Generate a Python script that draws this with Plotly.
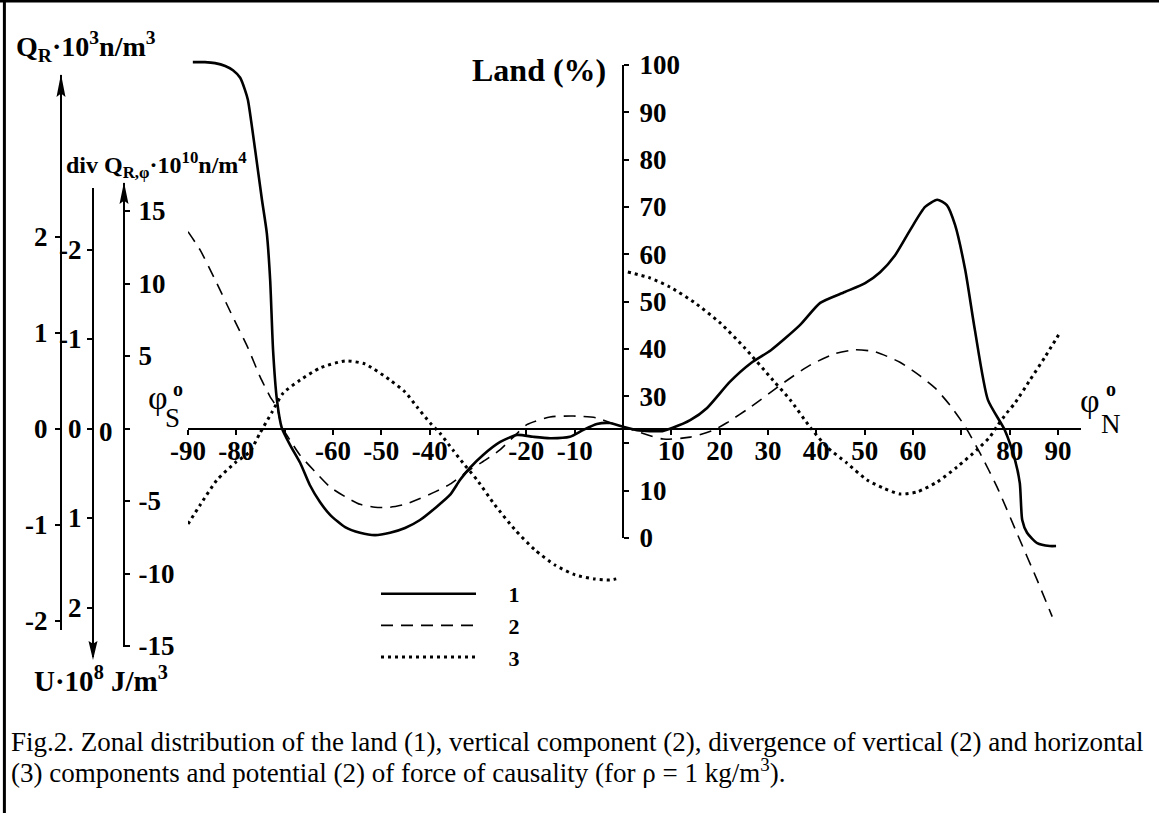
import plotly.graph_objects as go

W, H = 1159, 813

# ---------------- data ----------------
# curve 1: land fraction (%) vs latitude
lat_land = [-89.0, -86.5, -84.4, -82.3, -80.7, -79.2, -78.2, -77.6, -76.1, -74.7,
            -73.7, -73.0, -72.4, -71.6, -70.6, -68.9, -66.8, -64.8, -62.7, -60.6,
            -57.5, -54.4, -51.3, -48.2, -45.1, -42.0, -38.9, -35.8, -33.7, -31.7,
            -29.0, -25.4, -21.9, -18.6, -15.1, -11.0, -8.3, -5.4, -2.7, 0.0,
            2.9, 5.6, 8.1, 10.3, 13.9, 17.4, 22.1, 26.5, 30.6, 36.6,
            40.8, 45.9, 50.1, 53.2, 56.3, 59.4, 62.5, 65.0, 67.0, 68.7,
            70.8, 72.8, 75.5, 79.0, 81.1, 82.1, 82.6, 83.6, 85.7, 88.3, 89.6]
land_pct = [100.6, 100.6, 100.4, 99.8, 98.9, 97.3, 94.7, 92.6, 82.0, 71.5,
            64.5, 54.5, 39.7, 29.2, 23.3, 19.7, 15.9, 11.2, 7.6, 4.9,
            2.3, 1.1, 0.6, 1.1, 2.1, 3.8, 6.3, 9.1, 12.3, 14.8,
            17.5, 20.3, 21.8, 21.4, 21.1, 21.4, 22.8, 24.1, 24.3, 23.5,
            22.8, 22.6, 22.6, 23.3, 24.9, 27.5, 33.0, 37.0, 39.7, 45.0,
            49.7, 52.0, 53.9, 56.2, 59.8, 65.1, 70.0, 71.5, 70.4, 66.2,
            56.7, 44.0, 29.2, 22.8, 16.5, 11.6, 3.8, 1.1, -1.1, -1.7, -1.7]

# curve 2: vertical component Q_R (10^3 n/m^3)
lat_q = [-90.0, -87.5, -84.4, -80.7, -77.6, -75.1, -73.0, -71.6, -70.6, -68.9,
         -66.8, -63.7, -60.6, -57.5, -54.4, -51.3, -48.2, -45.1, -42.0, -38.9,
         -35.8, -31.7, -28.5, -25.4, -21.9, -19.9, -15.1, -10.3, -5.4, -2.7,
         0.0, 3.5, 8.3, 13.9, 18.6, 21.5, 26.3, 33.9, 38.7, 43.9,
         48.0, 52.1, 57.3, 61.4, 64.6, 67.7, 70.8, 73.9, 77.4, 81.5, 85.7, 88.8]
q_vert = [2.05, 1.86, 1.55, 1.16, 0.84, 0.54, 0.33, 0.22, 0.02, -0.12,
          -0.28, -0.45, -0.61, -0.71, -0.79, -0.82, -0.82, -0.79, -0.73, -0.66,
          -0.58, -0.43, -0.33, -0.22, -0.05, 0.04, 0.12, 0.13, 0.11, 0.06,
          0.02, -0.04, -0.11, -0.09, -0.02, 0.06, 0.22, 0.50, 0.66, 0.78,
          0.82, 0.80, 0.69, 0.55, 0.42, 0.24, 0.02, -0.26, -0.61, -1.09, -1.58, -1.96]

# curve 3: divergence of horizontal component (10^10 n/m^4); break at equator
lat_div = [-90.0, -87.5, -84.0, -80.3, -77.2, -75.1, -72.6, -70.3, -66.8, -62.7,
           -57.5, -53.4, -48.2, -45.1, -42.6, -39.9, -37.9, -35.2, -33.1, -30.2,
           -26.5, -22.3, -18.2, -14.1, -9.9, -5.8, -2.7, -0.6,
           None,
           1.0, 5.6, 9.7, 14.9, 20.1, 25.2, 31.0, 34.6, 38.7, 42.2,
           46.3, 50.5, 53.8, 57.3, 60.8, 65.0, 69.1, 73.2, 75.9, 77.4,
           79.4, 81.1, 84.2, 87.3, 90.5]
div_h = [-6.59, -5.28, -3.55, -2.38, -1.59, -0.31, 1.14, 2.45, 3.34, 4.17,
         4.66, 4.45, 3.34, 2.52, 1.48, 0.38, -0.31, -1.48, -2.38, -3.55,
         -5.28, -7.00, -8.38, -9.41, -10.10, -10.38, -10.45, -10.31,
         None,
         10.79, 10.38, 9.76, 8.66, 7.28, 5.55, 3.34, 1.97, 0.10, -1.28,
         -2.38, -3.55, -4.10, -4.52, -4.38, -3.69, -2.66, -1.48, -0.59, 0.17,
         1.07, 1.76, 3.34, 4.93, 6.66]

lat_ticks = [-90, -80, -60, -50, -40, -20, -10, 10, 20, 30, 40, 50, 60, 80, 90]
lat_ticktext = [str(v) for v in lat_ticks]
lat_unlabelled = [-70, -30, 0, 70]
land_ticks = [0, 10, 30, 40, 50, 60, 70, 80, 90, 100]
land_ticktext = [str(v) for v in land_ticks]
land_unlabelled = [20]
qr_ticks = [-2, -1, 0, 1, 2]
qr_ticktext = ["-2", "-1", "0", "1", "2"]
u_ticks = [-2, -1, 0, 1, 2]
u_ticktext = ["-2", "-1", "0", "1", "2"]
dv_ticks = [-15, -10, -5, 5, 10, 15]
dv_ticktext = ["-15", "-10", "-5", "5", "10", "15"]
dv_unlabelled = [0]

# ---------------- geometry (pixels of the 1159x813 canvas) ----------------
LAT0_PX = 623.0          # x pixel of latitude 0
PX_PER_DEG = 4.8333
ZERO_PY = 428.5          # y pixel of the horizontal axis
X_LEFT, X_RIGHT = 188.0, 1081.0
LAND0_PY, LAND100_PY = 538.0, 65.0
A_X, A_TOP, A_BOT, A_SCALE = 61.0, 75.0, 630.0, 96.0
B_X, B_TOP, B_BOT, B_SCALE = 93.0, 188.0, 657.0, 89.5
C_X, C_TOP, C_BOT, C_SCALE = 124.0, 183.0, 647.0, 14.5


def fx(px):
    return px / W


def fy(py):
    return 1 - py / H


SERIF = "Liberation Serif"
tick_font = dict(family=SERIF, size=27, color="black", weight="bold")

fig = go.Figure()

fig.add_trace(go.Scatter(x=lat_land, y=land_pct, mode="lines", name="\u00a0\u00a0\u00a0\u00a0\u00a01",
                         line=dict(color="black", width=2.6, shape="spline", smoothing=0.6),
                         xaxis="x", yaxis="y", hoverinfo="skip"))
fig.add_trace(go.Scatter(x=lat_q, y=q_vert, mode="lines", name="\u00a0\u00a0\u00a0\u00a0\u00a02",
                         line=dict(color="black", width=1.6, dash="12px,8px", shape="spline", smoothing=0.6),
                         xaxis="x", yaxis="y6", hoverinfo="skip"))
fig.add_trace(go.Scatter(x=lat_div, y=div_h, mode="lines", name="\u00a0\u00a0\u00a0\u00a0\u00a03",
                         line=dict(color="black", width=3, dash="3px,4px", shape="spline", smoothing=0.6),
                         connectgaps=False, xaxis="x", yaxis="y8", hoverinfo="skip"))
# empty traces so the land axis and the U axis get drawn
for ya in ("y5", "y7"):
    fig.add_trace(go.Scatter(x=[None], y=[None], mode="lines", showlegend=False,
                             xaxis="x", yaxis=ya, hoverinfo="skip"))


def axis_common(unlabelled=None):
    d = dict(showgrid=False, zeroline=False, showline=True, linecolor="black",
             linewidth=2, ticks="outside", ticklen=5, tickwidth=2, tickcolor="black",
             tickfont=tick_font, fixedrange=True, tickmode="array", automargin=False)
    if unlabelled:
        d["minor"] = dict(tickmode="array", tickvals=unlabelled, ticks="outside",
                          ticklen=5, tickwidth=2, tickcolor="black", showgrid=False)
    return d


fig.update_layout(
    template="none",
    width=W, height=H, autosize=False,
    margin=dict(l=0, r=0, t=0, b=0, pad=0),
    paper_bgcolor="white", plot_bgcolor="rgba(0,0,0,0)",
    xaxis=dict(domain=[fx(X_LEFT), fx(X_RIGHT)],
               range=[-90, (X_RIGHT - LAT0_PX) / PX_PER_DEG],
               anchor="free", position=fy(ZERO_PY),
               tickvals=lat_ticks, ticktext=lat_ticktext, ticklabelstandoff=-7,
               **axis_common(lat_unlabelled)),
    yaxis=dict(domain=[0, 1], visible=False, fixedrange=True, automargin=False,
               range=[(LAND0_PY - H) / ((LAND0_PY - LAND100_PY) / 100),
                      LAND0_PY / ((LAND0_PY - LAND100_PY) / 100)]),
    yaxis5=dict(domain=[fy(LAND0_PY), fy(LAND100_PY)], range=[0, 100],
                anchor="free", position=fx(LAT0_PX), side="right",
                tickvals=land_ticks, ticktext=land_ticktext, ticklabelstandoff=5,
                **axis_common(land_unlabelled)),
    yaxis6=dict(domain=[fy(A_BOT), fy(A_TOP)],
                range=[(ZERO_PY - A_BOT) / A_SCALE, (ZERO_PY - A_TOP) / A_SCALE],
                anchor="free", position=fx(A_X), side="left",
                tickvals=qr_ticks, ticktext=qr_ticktext, ticklabelstandoff=2,
                **axis_common()),
    yaxis7=dict(domain=[fy(B_BOT), fy(B_TOP)],
                range=[(B_BOT - ZERO_PY) / B_SCALE, (B_TOP - ZERO_PY) / B_SCALE],
                anchor="free", position=fx(B_X), side="left",
                tickvals=u_ticks, ticktext=u_ticktext, ticklabelstandoff=0,
                **axis_common()),
    yaxis8=dict(domain=[fy(C_BOT), fy(C_TOP)],
                range=[(ZERO_PY - C_BOT) / C_SCALE, (ZERO_PY - C_TOP) / C_SCALE],
                anchor="free", position=fx(C_X), side="right",
                tickvals=dv_ticks, ticktext=dv_ticktext, ticklabelstandoff=3,
                **axis_common(dv_unlabelled)),
    showlegend=True,
    legend=dict(x=fx(376), y=fy(573), xanchor="left", yanchor="top",
                itemwidth=95, bgcolor="rgba(0,0,0,0)", borderwidth=0,
                font=dict(family=SERIF, size=22, color="black", weight="bold"),
                traceorder="normal", tracegroupgap=0),
)


def tri(tip, base_y, half):
    x, y = tip
    return (f"M{fx(x):.5f},{fy(y):.5f} L{fx(x - half):.5f},{fy(base_y):.5f} "
            f"L{fx(x):.5f},{fy(base_y - (base_y - y) * 0.15):.5f} "
            f"L{fx(x + half):.5f},{fy(base_y):.5f} Z")


shapes = [
    dict(type="path", xref="paper", yref="paper", path=tri((A_X, A_TOP - 1), A_TOP + 22, 4.5),
         fillcolor="black", line=dict(width=0)),
    dict(type="path", xref="paper", yref="paper", path=tri((C_X, C_TOP - 1), C_TOP + 21, 4.5),
         fillcolor="black", line=dict(width=0)),
    dict(type="path", xref="paper", yref="paper", path=tri((B_X, B_BOT + 3), B_BOT - 16, 4.5),
         fillcolor="black", line=dict(width=0)),
    # frame: top and left edges only
    dict(type="line", xref="paper", yref="paper", x0=0, x1=1, y0=fy(1.2), y1=fy(1.2),
         line=dict(color="black", width=2.5)),
    dict(type="line", xref="paper", yref="paper", x0=fx(4.4), x1=fx(4.4), y0=0, y1=1,
         line=dict(color="black", width=3)),
]

annotations = []


def ann(text, px, py, size=27, xanchor="left", yanchor="middle", bold=True):
    annotations.append(dict(text=text, x=fx(px), y=fy(py), xref="paper", yref="paper",
                            xanchor=xanchor, yanchor=yanchor, showarrow=False,
                            font=dict(family=SERIF, size=size, color="black",
                                      weight="bold" if bold else "normal")))


ann("Q<sub>R</sub>·10<sup>3</sup>n/m<sup>3</sup>", 14, 46, size=28)
ann("div Q<sub>R,φ</sub>·10<sup>10</sup>n/m<sup>4</sup>", 64, 165, size=24)
ann("U·10<sup>8</sup> J/m<sup>3</sup>", 32, 679, size=29)
ann("Land (%)", 608, 70, size=32, xanchor="right")
ann("0", 115, 432, size=27, xanchor="right")
# latitude symbols
ann("φ", 146, 397, size=34, bold=False)
ann("o", 171, 389, size=20)
ann("S", 163, 418, size=27, bold=False)
ann("φ", 1078, 400, size=34, bold=False)
ann("o", 1104, 389, size=20)
ann("N", 1099, 424, size=27, bold=False)
# caption
ann("Fig.2. Zonal distribution of the land (1), vertical component (2), divergence of vertical (2) and horizontal",
    9, 742, size=27, bold=False)
ann("(3) components and potential (2) of force of causality (for ρ = 1 kg/m<sup>3</sup>).",
    9, 771, size=27, bold=False)

fig.update_layout(shapes=shapes, annotations=annotations)

fig.write_html(
    "out.html",
    config={"displayModeBar": False},
    post_script="document.body.style.margin='0px';document.body.style.overflow='hidden';"
                "document.documentElement.style.overflow='hidden';",
)
